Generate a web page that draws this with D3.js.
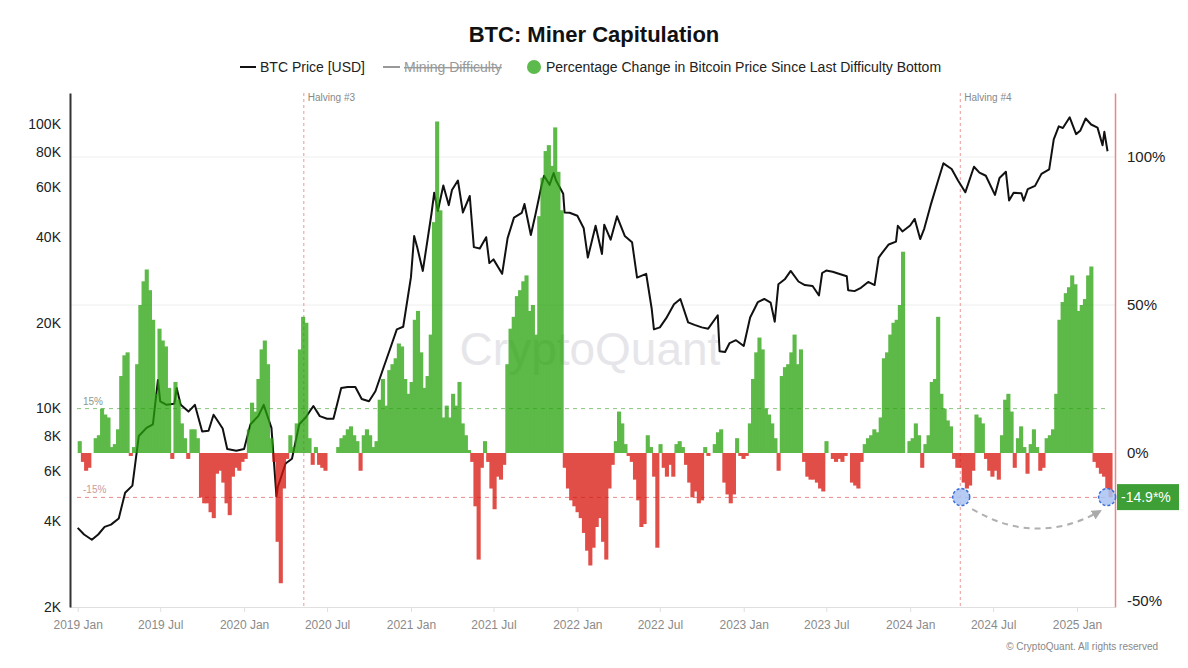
<!DOCTYPE html>
<html><head><meta charset="utf-8">
<script src="https://cdn.jsdelivr.net/npm/d3@7"></script>
<style>body{margin:0;background:#fff;}svg{font-family:"Liberation Sans",Arial,sans-serif}</style>
</head><body><svg id="c" width="1188" height="668"></svg>
<script>
// ---------- DATA ----------
const priceDates = ["2019-01-01","2019-01-15","2019-02-01","2019-02-15","2019-03-01","2019-03-15","2019-04-01","2019-04-15","2019-05-01","2019-05-15","2019-06-01","2019-06-15","2019-06-26","2019-07-01","2019-07-15","2019-08-01","2019-08-06","2019-08-15","2019-09-01","2019-09-15","2019-10-01","2019-10-15","2019-10-26","2019-11-01","2019-11-15","2019-11-25","2019-12-15",
"2020-01-01","2020-01-15","2020-02-01","2020-02-13","2020-03-01","2020-03-12","2020-03-15","2020-04-01","2020-04-15","2020-05-01","2020-05-15","2020-06-01","2020-06-15","2020-07-01","2020-07-15","2020-08-01","2020-08-15","2020-09-01","2020-09-15","2020-10-01","2020-10-15","2020-11-01","2020-11-15","2020-12-01","2020-12-15",
"2021-01-01","2021-01-08","2021-01-15","2021-01-27","2021-02-15","2021-02-21","2021-03-01","2021-03-13","2021-03-25","2021-04-01","2021-04-14","2021-04-25","2021-05-10","2021-05-19","2021-06-01","2021-06-15","2021-06-22","2021-07-01","2021-07-20","2021-08-01","2021-08-15","2021-09-01","2021-09-07","2021-09-21","2021-10-01","2021-10-15","2021-10-20","2021-11-01","2021-11-10","2021-11-15","2021-12-01","2021-12-04","2021-12-15",
"2022-01-01","2022-01-15","2022-01-24","2022-02-10","2022-02-24","2022-03-01","2022-03-15","2022-03-29","2022-04-15","2022-05-01","2022-05-12","2022-06-01","2022-06-13","2022-06-18","2022-07-01","2022-07-15","2022-08-01","2022-08-15","2022-09-01","2022-09-15","2022-10-01","2022-10-15","2022-11-05","2022-11-09","2022-11-21","2022-12-01","2022-12-15",
"2023-01-01","2023-01-15","2023-02-01","2023-02-15","2023-03-01","2023-03-10","2023-03-18","2023-04-01","2023-04-14","2023-05-01","2023-05-15","2023-06-01","2023-06-15","2023-06-22","2023-07-01","2023-07-15","2023-08-01","2023-08-15","2023-08-18","2023-09-01","2023-09-15","2023-10-01","2023-10-15","2023-10-24","2023-11-01","2023-11-15","2023-12-01","2023-12-05","2023-12-15",
"2024-01-01","2024-01-11","2024-01-23","2024-02-01","2024-02-15","2024-03-01","2024-03-14","2024-04-01","2024-04-15","2024-05-01","2024-05-20","2024-06-01","2024-06-15","2024-07-05","2024-07-15","2024-07-29","2024-08-05","2024-08-15","2024-09-01","2024-09-06","2024-09-15","2024-10-01","2024-10-15","2024-11-01","2024-11-11","2024-11-22","2024-12-01","2024-12-16","2024-12-30",
"2025-01-08","2025-01-20","2025-02-01","2025-02-15","2025-02-26","2025-03-02","2025-03-09"];
const priceValues = [3800,3600,3450,3600,3830,3900,4100,5050,5350,8000,8550,8800,12600,10600,10300,10400,11800,10300,9750,10300,8300,8350,9500,9200,8500,7200,7100,
7200,8800,9400,10300,8550,4900,5300,6400,6650,8800,9300,10200,9400,9200,9200,11800,11900,11900,10800,10600,11500,13800,16000,19000,19400,
29000,40500,36800,30500,48500,57500,49600,61000,52000,58800,63500,49000,56000,37000,36600,40100,32500,33500,29800,39800,47000,48800,52500,40800,48100,61500,66000,61300,67500,63600,57000,49000,48900,
47700,43100,34000,44000,35000,44400,39300,47500,40500,38500,28900,29800,22500,19000,19300,20800,23300,24300,20100,19700,19300,19100,21300,15900,15800,17000,17400,
16600,20900,23700,24300,23600,20200,27400,28500,30500,28000,27200,27000,25000,30000,30600,30300,29700,29200,26100,25900,26600,27900,27200,34000,35400,37800,38700,44000,42000,
44100,46500,39500,43000,52000,62500,73000,69700,63500,57700,71000,67700,66000,56500,64800,68200,54000,57500,57300,53900,59200,60800,67000,69500,88700,98500,97200,106000,92500,
95000,105000,100000,97500,84500,94200,80500];

// weekly % change since last difficulty bottom, starting 2019-01-01
const pctStart = "2019-01-01";
const pctWeekly = [4,-3,-6,-5,0,5,6,15,13,12,2,3,8,26,33,34,-1,2,30,50,58,62,55,45,20,42,38,36,22,-2,
24,18,10,5,-2,8,8,5,-15,-17,-17,-20,-22,-7,-6,-10,-17,-21,-8,-5,-6,-3,-2,8,17,14,25,35,38,30,
5,-3,-30,-44,-12,-2,6,2,10,35,46,44,5,-4,2,-4,-5,-6,0,0,
0,2,5,6,8,9,6,4,-6,6,8,6,2,4,18,25,16,28,30,32,
37,36,25,20,24,45,48,34,22,26,40,78,112,82,12,16,12,20,16,24,
10,6,1,-3,-18,-36,-5,4,-3,-12,-19,-8,-9,-4,30,42,46,53,55,58,
60,48,50,40,80,93,102,104,97,110,95,82,-5,-12,-16,-18,-20,-22,-27,-33,
-38,-32,-25,-22,-30,-36,-12,-4,4,14,10,3,-1,-3,-9,-16,-25,-24,6,2,
-8,-32,3,-5,-8,-4,-8,3,4,2,-4,-10,-15,-13,-17,-16,2,-1,0,3,
7,8,-10,-14,-17,-14,5,-1,-2,-1,10,25,34,39,35,15,13,10,5,-6,
26,29,30,34,40,30,35,-3,-8,-9,-9,-10,-12,-13,4,0,-2,-3,-2,-3,
-1,0,-10,-11,-12,-3,3,5,6,8,7,12,32,34,40,44,45,50,68,0,
4,5,10,6,-5,3,6,24,25,46,20,15,11,9,-2,-5,-5,-10,-12,-11,
-6,13,12,10,-2,-6,-8,-6,-9,6,18,20,14,-5,5,9,2,-7,3,8,
2,-6,-5,5,6,8,20,45,51,54,56,60,57,48,50,52,60,63,-3,-5,
-7,-8,-12,-15];

const leftTicks = [2000,4000,6000,8000,10000,20000,40000,60000,80000,100000];
const rightTicks = [100,50,0,-50];
const gridPct = [100,50];
const bandLevels = [{v:15,label:"15%",color:"#8cc57f",text:"#8a9a8a"},{v:-15,label:"-15%",color:"#e88a8a",text:"#c99"}];
const halvings = [{date:"2020-05-11",label:"Halving #3"},{date:"2024-04-20",label:"Halving #4"}];
const markDates = ["2024-04-22","2025-03-08"];
const markValue = -14.9;
const markLabel = "-14.9*%";

// ---------- SCALES ----------
const P = d3.utcParse("%Y-%m-%d");
const svg = d3.select("#c");
const T = 93, B = 607, Lf = 70, Rt = 1115;
const x = d3.scaleUtc().domain([P("2019-01-01"), P("2025-01-01")]).range([77.7, 1077]);
const yL = d3.scaleLog().domain([2000, 2000*Math.pow(10,514/284)]).range([B, T]);
const yR = d3.scaleLinear().domain([(453-607)/2.96, (453-93)/2.96]).range([B, T]);

// title & legend
svg.append("text").attr("x",594).attr("y",42).attr("text-anchor","middle")
  .attr("font-size",22).attr("font-weight","bold").attr("fill","#111").text("BTC: Miner Capitulation");
const lg = svg.append("g").attr("font-size",14);
lg.append("line").attr("x1",240).attr("x2",256).attr("y1",67).attr("y2",67).attr("stroke","#111").attr("stroke-width",2);
lg.append("text").attr("x",260).attr("y",72).attr("fill","#222").text("BTC Price [USD]");
lg.append("line").attr("x1",383).attr("x2",400).attr("y1",67).attr("y2",67).attr("stroke","#999").attr("stroke-width",2);
lg.append("text").attr("x",404).attr("y",72).attr("fill","#999").attr("text-decoration","line-through").text("Mining Difficulty");
lg.append("circle").attr("cx",534).attr("cy",67).attr("r",7).attr("fill","#5cbb4c");
lg.append("text").attr("x",546).attr("y",72).attr("fill","#222").text("Percentage Change in Bitcoin Price Since Last Difficulty Bottom");

// watermark
svg.append("text").attr("x",590).attr("y",365).attr("text-anchor","middle").attr("font-size",46)
  .attr("fill","#e6e6ea").text("CryptoQuant");

// gridlines
svg.append("g").selectAll("line").data(gridPct).join("line")
  .attr("x1",Lf).attr("x2",Rt).attr("y1",d=>yR(d)).attr("y2",d=>yR(d))
  .attr("stroke","#eeeeee").attr("stroke-width",1);

// bottom axis
const xAxis = d3.axisBottom(x).ticks(d3.utcMonth.every(6)).tickFormat(d3.utcFormat("%Y %b")).tickSize(5).tickPadding(8);
const gx = svg.append("g").attr("transform",`translate(0,${B})`).call(xAxis);
gx.select(".domain").attr("stroke","#e0e0e0").attr("d",`M${Lf},0.5H${Rt}`);
gx.selectAll(".tick line").attr("stroke","#e0e0e0");
gx.selectAll(".tick text").attr("fill","#8a8a8a").attr("font-size",12).attr("font-family","Liberation Sans, Arial, sans-serif");

// left axis
const yAxis = d3.axisLeft(yL).tickValues(leftTicks).tickFormat(d=>(d/1000)+"K").tickSize(0).tickPadding(9);
const gy = svg.append("g").attr("transform",`translate(${Lf},0)`).call(yAxis);
gy.select(".domain").attr("stroke","#333").attr("stroke-width",2);
gy.selectAll(".tick text").attr("fill","#222").attr("font-size",14).attr("font-family","Liberation Sans, Arial, sans-serif");

// right axis
const yAxisR = d3.axisRight(yR).tickValues(rightTicks).tickFormat(d=>d+"%").tickSize(0).tickPadding(12);
const gyr = svg.append("g").attr("transform",`translate(${Rt},0)`).call(yAxisR);
gyr.select(".domain").attr("stroke","#e98686").attr("stroke-width",1.5);
gyr.selectAll(".tick text").attr("fill","#222").attr("font-size",15).attr("font-family","Liberation Sans, Arial, sans-serif");

// band dashed lines
bandLevels.forEach(b=>{
  svg.append("line").attr("x1",77).attr("x2",1108).attr("y1",yR(b.v)).attr("y2",yR(b.v))
    .attr("stroke",b.color).attr("stroke-width",1).attr("stroke-dasharray","4,4");
  svg.append("text").attr("x",83).attr("y",yR(b.v)-4).attr("font-size",10).attr("fill",b.text).text(b.label);
});

// halving lines
halvings.forEach(h=>{
  const hx = x(P(h.date));
  svg.append("line").attr("x1",hx).attr("x2",hx).attr("y1",T).attr("y2",B)
    .attr("stroke","#e99a9a").attr("stroke-width",1).attr("stroke-dasharray","3,3");
  svg.append("text").attr("x",hx+4).attr("y",101).attr("font-size",10).attr("fill","#888").text(h.label);
});

// price line
const priceData = priceDates.map((d,i)=>({d:P(d),v:priceValues[i]}));
svg.append("path").datum(priceData)
  .attr("d",d3.line().x(d=>x(d.d)).y(d=>yL(d.v)))
  .attr("fill","none").attr("stroke","#111").attr("stroke-width",2).attr("stroke-linejoin","round");

// bars (group opacity so overlapping edges do not darken)
const start = P(pctStart);
const barData = pctWeekly.map((v,i)=>({d0:d3.utcDay.offset(start,7*i), d1:d3.utcDay.offset(start,7*(i+1)), v}));
svg.append("g").attr("opacity",0.75).selectAll("rect").data(barData).join("rect")
  .attr("x",d=>x(d.d0)).attr("width",d=>x(d.d1)-x(d.d0)+0.9)
  .attr("y",d=>Math.min(yR(0),yR(d.v))).attr("height",d=>Math.abs(yR(d.v)-yR(0)))
  .attr("fill",d=>d.v>=0?"rgb(39,162,11)":"rgb(216,19,11)");

// annotation markers
const my = yR(markValue);
const mx = markDates.map(d=>x(P(d)));
const defs = svg.append("defs");
defs.append("marker").attr("id","arr").attr("viewBox","0 0 10 10").attr("refX",8).attr("refY",5)
  .attr("markerWidth",5).attr("markerHeight",5).attr("orient","auto")
  .append("path").attr("d","M0,0L10,5L0,10z").attr("fill","#aaa");
const p1=[mx[0]+11,my+12], p2=[mx[1]-7,my+14];
svg.append("path").attr("d",`M${p1[0]},${p1[1]}Q${(p1[0]+p2[0])/2},${my+50} ${p2[0]},${p2[1]}`)
  .attr("fill","none").attr("stroke","#b0b0b0").attr("stroke-width",2).attr("stroke-dasharray","6,5")
  .attr("marker-end","url(#arr)");
mx.forEach(cx=>{
  svg.append("circle").attr("cx",cx).attr("cy",my).attr("r",8.5)
    .attr("fill","#a9c3f3").attr("fill-opacity",0.85).attr("stroke","#3a6fd6").attr("stroke-width",1.5).attr("stroke-dasharray","3,2");
});
svg.append("rect").attr("x",1117).attr("y",my-13).attr("width",62).attr("height",26).attr("fill","#3d9f35");
svg.append("text").attr("x",1121).attr("y",my+5).attr("font-size",14).attr("fill","#fff").text(markLabel);

// copyright
svg.append("text").attr("x",1158).attr("y",650).attr("text-anchor","end").attr("font-size",10).attr("fill","#888")
  .text("© CryptoQuant. All rights reserved");
</script></body></html>
